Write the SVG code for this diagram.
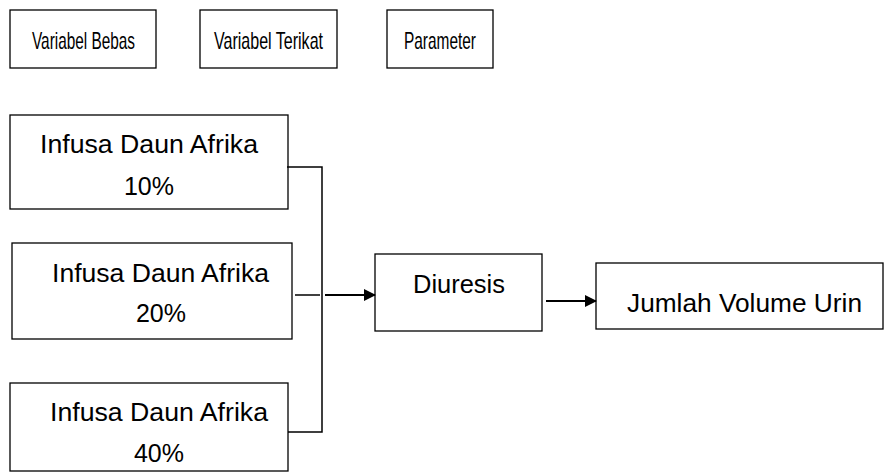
<svg xmlns="http://www.w3.org/2000/svg" width="895" height="472" viewBox="0 0 895 472">
<style>
.box{fill:#fff;stroke:#000;stroke-width:1.3}
.t{font-family:"Liberation Sans",Arial,sans-serif;fill:#000}
.hd{font-size:24px}
.bd{font-size:25px}
.ln{fill:none;stroke:#000;stroke-width:1.5}
.ar{fill:none;stroke:#000;stroke-width:2}
</style>
<defs>
<marker id="ah" markerWidth="12" markerHeight="12" refX="11" refY="6" orient="auto" markerUnits="userSpaceOnUse">
<path d="M0,0 L12,6 L0,12 Z" fill="#000"/>
</marker>
</defs>
<rect width="895" height="472" fill="#fff"/>
<g id="hdr-bebas">
<rect class="box" x="10" y="10" width="146" height="58"/>
<text class="t hd" x="32" y="49" textLength="103" lengthAdjust="spacingAndGlyphs">Variabel Bebas</text>
</g>
<g id="hdr-terikat">
<rect class="box" x="200" y="10" width="137" height="58"/>
<text class="t hd" x="214" y="49" textLength="109" lengthAdjust="spacingAndGlyphs">Variabel Terikat</text>
</g>
<g id="hdr-param">
<rect class="box" x="387" y="10" width="106" height="58"/>
<text class="t hd" x="404" y="49" textLength="72" lengthAdjust="spacingAndGlyphs">Parameter</text>
</g>
<g id="n10">
<rect class="box" x="10" y="115" width="278" height="94"/>
<text class="t bd" x="40" y="153" textLength="218" lengthAdjust="spacingAndGlyphs">Infusa Daun Afrika</text>
<text class="t bd" x="149" y="195" text-anchor="middle">10%</text>
</g>
<g id="n20">
<rect class="box" x="12" y="243" width="280" height="96"/>
<text class="t bd" x="52" y="282" textLength="217" lengthAdjust="spacingAndGlyphs">Infusa Daun Afrika</text>
<text class="t bd" x="161" y="322" text-anchor="middle">20%</text>
</g>
<g id="n40">
<rect class="box" x="10" y="383" width="278" height="88"/>
<text class="t bd" x="50" y="421" textLength="218" lengthAdjust="spacingAndGlyphs">Infusa Daun Afrika</text>
<text class="t bd" x="159" y="462" text-anchor="middle">40%</text>
</g>
<g id="diuresis">
<rect class="box" x="375" y="254" width="167" height="77"/>
<text class="t bd" x="413" y="293" textLength="92" lengthAdjust="spacingAndGlyphs">Diuresis</text>
</g>
<g id="volume">
<rect class="box" x="596" y="263" width="287" height="66"/>
<text class="t bd" x="627" y="312" textLength="235" lengthAdjust="spacingAndGlyphs">Jumlah Volume Urin</text>
</g>
<g id="connectors">
<path class="ln" d="M287,167 H322 V432 H288"/>
<path class="ln" d="M295,295 H320"/>
<path class="ar" d="M325,295 H375" marker-end="url(#ah)"/>
<path class="ar" d="M546,301 H596" marker-end="url(#ah)"/>
</g>
</svg>
